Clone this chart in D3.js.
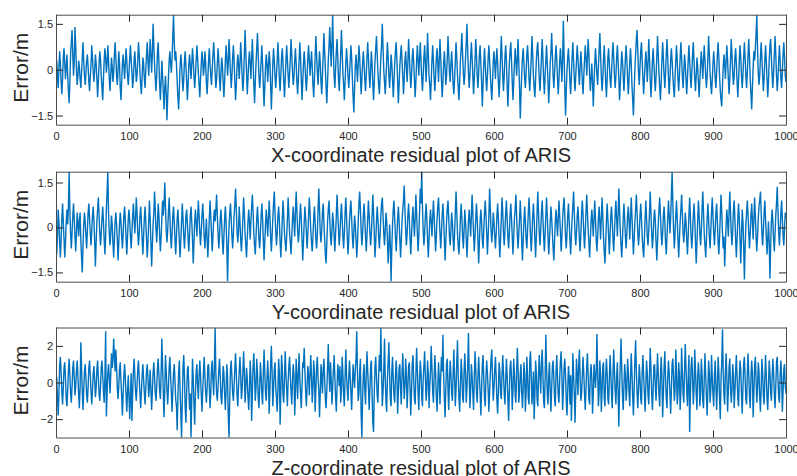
<!DOCTYPE html>
<html>
<head>
<meta charset="utf-8">
<script src="https://cdn.jsdelivr.net/npm/d3@7"></script>
<style>
  html, body { margin: 0; padding: 0; background: #fff; }
  svg { display: block; font-family: "Liberation Sans", Arial, Helvetica, sans-serif; }
  .tick text { fill: #262626; font-size: 11px; }
  .tick line { stroke: #262626; }
  .domain { stroke: #4d4d4d; }
</style>
</head>
<body>
<svg id="chart" width="797" height="476"></svg>
<script>
// residuals (m), samples 1..1000
const xResidual = [
0.3,-0.2,-0.6,0.1,0.6,0.2,-0.4,-0.8,-0.3,0.4,0.7,0.2,-0.3,0.1,0.5,-0.2,-0.7,-1.1,-0.4,0.5,
0.9,1.3,0.5,-0.2,0.3,1.4,0.8,0.0,-0.5,-0.2,0.3,0.1,-0.3,-0.6,-0.1,0.4,0.9,0.3,-0.2,-0.5,
-0.1,0.3,0.5,0.1,-0.4,-0.7,-0.2,0.2,0.8,0.4,-0.1,-0.4,0.0,0.5,0.2,-0.3,-0.9,-0.4,0.2,0.6,
0.3,-0.2,-0.6,-1.0,-0.3,0.3,0.7,0.4,-0.1,0.2,0.8,0.3,-0.3,-0.7,-0.2,0.4,0.1,-0.4,-0.1,0.5,
0.9,0.4,-0.2,-0.5,0.0,0.6,0.2,-0.6,-1.0,-0.4,0.2,0.5,0.1,-0.3,0.2,0.7,0.3,-0.2,-0.5,-0.1,
0.4,0.8,0.3,-0.1,-0.6,-0.3,0.3,0.6,0.1,-0.4,-0.2,0.3,0.9,0.5,-0.1,-0.5,-0.8,-0.2,0.4,0.2,
-0.3,-0.6,0.0,0.5,0.9,0.3,-0.2,0.4,1.0,0.5,-0.1,0.5,1.5,0.8,0.2,-0.3,-0.7,-0.2,0.6,0.9,
0.2,-0.5,-1.0,-0.4,0.3,-0.2,-0.7,-1.3,-0.6,-0.2,-0.8,-1.65,-0.9,-0.3,0.3,0.6,0.2,-0.1,0.4,1.1,
1.8,0.9,0.3,0.6,0.2,-0.4,-0.9,-1.3,-0.6,0.1,0.5,0.2,-0.3,-0.7,-0.3,0.3,0.6,0.1,-0.4,-1.0,
-0.5,0.2,0.5,0.1,-0.3,0.2,0.7,0.3,-0.2,-0.6,-0.2,0.3,0.8,0.4,-0.1,-0.5,-0.9,-0.3,0.2,0.6,
0.3,-0.2,0.1,0.6,0.2,-0.4,-0.8,-0.3,0.3,0.7,0.2,-0.2,-0.5,0.0,0.5,0.9,0.4,-0.1,-0.6,-0.3,
0.2,0.7,0.3,-0.3,-0.7,-0.1,0.4,0.1,-0.4,-0.9,-0.4,0.3,0.8,0.4,-0.2,0.2,1.0,0.5,-0.1,-0.6,
-0.2,0.4,0.8,0.3,-0.4,-1.0,-0.5,0.1,0.5,0.2,-0.3,0.2,0.9,0.4,-0.2,-0.7,-0.3,0.5,1.3,0.6,
-0.1,-0.8,-0.3,0.3,0.6,0.2,-0.3,0.4,1.0,0.3,-0.5,-1.1,-0.4,0.2,0.7,1.2,0.5,-0.2,-0.6,-0.2,
0.3,0.8,0.2,-0.5,-1.2,-0.6,0.1,0.5,0.2,-0.4,0.1,0.6,0.3,-0.5,-1.3,-0.6,0.2,0.7,0.3,-0.2,
-0.6,-0.2,0.3,0.9,0.4,-0.3,-0.7,-0.2,0.4,0.7,0.2,-0.4,-0.9,-0.3,0.3,0.8,0.3,-0.2,-0.6,-0.1,
0.4,1.0,0.5,-0.1,-0.5,-0.2,0.3,0.7,0.2,-0.4,-0.8,-0.3,0.3,0.9,0.4,-0.3,-1.0,-0.4,0.2,0.6,
0.2,-0.3,-0.7,-0.2,0.4,0.8,0.3,-0.2,0.2,0.6,0.1,-0.5,-0.9,-0.3,0.4,1.1,0.5,-0.1,-0.5,0.1,
0.6,0.2,-0.4,-0.8,-0.2,0.5,1.2,0.6,0.0,-0.6,-1.1,-0.4,0.3,0.8,1.4,0.7,0.1,0.9,1.8,0.6,
-0.2,-0.6,0.0,0.6,1.0,0.4,-0.3,-0.7,-0.1,0.5,1.3,0.6,-0.1,-0.5,-1.0,-0.4,0.2,0.7,0.3,-0.2,
-0.6,-0.2,0.3,0.8,0.4,-0.3,-0.9,-1.4,-0.6,0.1,0.5,0.1,-0.4,0.2,0.8,0.4,-0.2,-0.8,-0.3,0.2,
0.6,0.2,-0.3,-0.7,-0.2,0.4,0.9,0.4,-0.2,-0.6,0.0,0.6,0.2,-0.5,-1.0,-0.4,0.3,0.7,1.1,0.5,
-0.1,-0.5,-0.8,-0.2,0.4,0.8,1.5,0.7,0.0,-0.4,-0.8,-0.3,0.3,0.9,0.4,-0.2,-0.6,-0.1,0.5,0.2,
-0.3,-0.9,-0.4,0.2,0.6,0.9,0.3,-0.4,-1.1,-0.5,0.1,0.5,0.8,0.3,-0.2,-0.8,-0.3,0.3,0.6,0.1,
-0.4,0.2,1.0,0.5,-0.1,-0.6,-0.2,0.4,0.7,0.2,-0.3,-0.9,-0.4,0.3,0.8,0.3,-0.2,0.4,0.9,0.3,
-0.3,-0.7,-0.2,0.4,0.8,0.2,-0.4,0.3,1.2,0.5,-0.2,-0.5,-1.0,-0.4,0.3,0.8,0.3,-0.3,-0.7,-0.2,
0.4,0.7,0.2,-0.4,0.3,1.0,0.4,-0.3,-0.9,-0.4,0.2,0.6,0.1,-0.5,-0.2,0.4,1.1,0.5,-0.1,-0.4,
0.2,0.6,0.1,-0.5,-0.8,-0.3,0.3,0.9,0.4,-0.2,-0.6,-1.0,-0.4,0.3,0.7,1.2,0.5,-0.1,-0.5,-0.2,
0.4,0.9,1.5,0.6,-0.1,-0.6,-0.2,0.4,0.9,0.4,-0.2,-0.8,-0.3,0.3,1.0,0.5,-0.2,-0.6,-0.1,0.5,
0.8,0.2,-0.4,-1.2,-0.5,0.2,0.7,0.2,-0.3,-0.7,-0.2,0.4,0.8,0.3,-0.2,-0.6,-1.0,-0.4,0.3,0.6,
0.2,-0.3,0.3,0.7,0.2,-0.4,-0.9,-0.3,0.4,1.1,0.5,-0.2,-0.7,-0.2,0.4,0.8,0.3,-0.5,-1.2,-0.5,
0.2,0.6,0.9,0.3,-0.4,-1.0,-0.4,0.2,0.7,0.3,-0.2,0.4,1.0,0.2,-0.6,-1.6,-0.8,-0.1,0.4,0.7,
0.2,-0.3,-0.6,-0.1,0.5,0.8,0.3,-0.3,-0.7,-0.2,0.4,1.1,0.5,-0.2,-0.6,-0.9,-0.3,0.3,0.7,0.9,
0.3,-0.3,-0.7,-0.2,0.4,1.0,0.4,-0.3,-0.8,-0.2,0.3,0.8,0.2,-0.4,-1.1,-0.5,0.2,0.6,1.2,0.5,
-0.2,-0.6,-0.1,0.4,0.8,0.3,-0.3,-0.8,-0.3,0.3,0.7,0.2,-0.4,0.3,1.6,0.5,-0.6,-1.5,-0.7,0.0,
0.4,0.7,0.2,-0.4,-0.8,-0.2,0.4,0.9,0.3,-0.3,-0.7,-0.2,0.3,0.8,0.4,-0.1,-0.5,0.1,0.6,0.2,
-0.4,-0.8,-0.2,0.3,0.8,0.4,-0.2,0.4,1.0,0.5,-0.2,-0.7,-0.3,0.2,-0.4,-1.2,-0.5,0.2,0.7,0.3,
-0.2,-0.5,0.1,0.6,1.2,0.5,-0.2,-0.7,-0.3,0.3,0.8,0.2,-0.4,-0.9,-0.3,0.4,0.7,0.2,-0.3,-0.6,
-0.1,0.5,0.9,0.4,-0.2,-0.6,-0.2,0.4,0.8,0.3,-0.3,-1.0,-0.5,0.1,0.6,0.3,-0.2,-0.7,-0.2,0.4,
0.8,0.3,-0.3,-0.8,-0.3,0.3,0.7,0.2,-0.5,-1.0,-1.5,-0.7,0.0,0.5,1.0,1.3,0.6,-0.1,-0.5,0.1,
0.6,0.9,0.3,-0.3,-0.8,-0.3,0.2,0.6,0.2,-0.4,0.2,1.0,0.4,-0.3,-0.9,-0.4,0.3,0.7,0.2,-0.3,
-0.7,-0.2,0.4,1.1,0.5,-0.1,-0.6,-1.0,-0.4,0.3,0.9,0.4,-0.2,-0.6,-0.1,0.5,1.0,0.4,-0.3,-0.8,
-0.3,0.3,0.7,0.3,-0.2,-0.6,-0.9,-0.3,0.3,0.8,0.3,-0.3,-0.7,-0.2,0.4,0.9,0.4,-0.2,-0.6,-0.1,
0.5,0.2,-0.3,-0.8,-0.3,0.3,0.8,0.3,-0.2,-0.6,-0.1,0.5,0.9,0.3,-0.3,-0.7,-0.2,0.4,0.1,-0.4,
-0.9,-0.4,0.2,0.6,0.2,-0.3,0.3,0.8,0.3,-0.2,-0.6,-0.2,0.4,1.1,0.5,-0.1,-0.5,-0.8,-0.3,0.2,
0.6,0.2,-0.3,-0.6,-0.1,0.5,0.9,0.4,-0.2,-0.7,-1.0,-1.2,-0.5,0.1,0.5,0.2,-0.3,0.3,0.8,0.3,
-0.3,-0.8,-0.3,0.3,1.0,0.5,-0.1,-0.5,-0.2,0.4,0.7,0.2,-0.4,-0.9,-0.4,0.3,0.8,0.4,-0.2,-0.6,
-0.2,0.4,0.9,0.4,-0.2,-0.6,-0.1,0.5,1.0,0.4,-0.3,-0.8,-1.3,-0.6,0.1,0.6,0.3,0.7,1.2,1.8,
0.7,-0.1,-0.5,-0.2,0.4,0.9,0.4,-0.2,-0.7,-0.3,0.3,0.8,0.3,-0.3,-0.9,-0.4,0.3,0.8,1.0,0.4,
-0.2,-0.6,-0.1,0.5,1.1,0.5,-0.2,-0.7,-0.3,0.3,0.8,0.3,-0.3,-0.6,-0.1,0.5,0.9,0.4,-0.2,-0.4
];

const yResidual = [
-0.9,-0.3,0.6,0.2,-0.5,-1.0,-0.4,0.3,0.8,0.2,-0.4,-1.0,-0.5,0.2,0.6,0.1,0.7,1.86,0.6,-0.2,
-0.7,-0.2,0.4,0.8,0.3,-0.3,-0.8,-0.2,0.5,0.2,-0.3,0.2,0.5,-0.4,-1.0,-1.5,-0.6,0.1,0.5,0.2,
-0.3,-0.7,-0.1,0.5,0.8,0.3,-0.2,-0.6,-0.1,0.4,0.7,0.2,-0.5,-1.3,-0.5,0.2,0.6,1.0,0.4,-0.2,
-0.6,-0.2,0.3,0.7,0.2,-0.4,-0.9,-0.3,0.6,1.2,1.86,0.5,-0.2,-0.6,-0.2,0.4,0.1,-0.5,-1.0,-0.4,
0.2,0.5,0.1,-0.4,-1.1,-0.5,0.1,0.5,0.2,-0.3,-0.7,-0.2,0.4,0.7,0.2,-0.4,-0.9,-0.3,0.3,0.6,
0.2,-0.3,-0.7,-0.2,0.4,0.8,0.3,-0.2,0.3,1.0,0.5,-0.2,-0.6,-0.2,0.4,0.7,0.2,-0.4,-0.9,-0.3,
0.3,0.7,0.2,-0.4,-1.0,-0.5,0.2,0.9,0.3,-0.5,-1.3,-0.6,0.1,0.5,1.2,0.6,-0.1,-0.5,0.1,0.8,
0.4,-0.3,-0.8,-0.3,0.3,0.9,0.4,0.8,1.5,0.7,-0.1,-0.5,-0.1,0.5,1.0,0.4,-0.3,-0.7,-0.2,0.4,
0.7,0.2,-0.4,-0.9,-0.3,0.3,0.6,0.1,-0.5,-1.0,-0.4,0.2,0.8,0.3,-0.3,-0.7,-0.2,0.4,0.6,0.1,
-0.4,-0.8,-0.2,0.4,0.7,0.2,-0.4,-1.2,-0.5,0.2,0.6,0.2,-0.3,0.3,0.9,0.4,-0.2,-0.6,-0.1,0.4,
0.8,0.3,-0.3,-0.7,-0.2,0.3,-0.4,-1.0,-0.4,0.3,0.9,0.4,-0.2,-0.8,-0.3,0.3,0.6,0.2,0.6,1.1,
0.4,-0.2,-0.7,-0.3,0.3,0.6,0.1,-0.5,-0.9,-0.3,0.3,0.7,0.2,-0.6,-1.8,-0.7,0.0,0.5,0.8,0.3,
-0.3,-0.7,-0.2,0.4,0.8,1.3,0.6,-0.1,-0.5,-0.1,0.7,0.2,-0.4,-0.8,-0.3,0.3,1.0,0.5,-0.2,-0.6,
-1.0,-0.4,0.2,0.6,0.2,-0.4,0.2,0.7,1.1,0.5,-0.2,-0.6,-0.9,-0.3,0.3,0.7,0.2,-0.4,-0.7,-0.2,
0.4,0.8,0.3,-0.4,-1.1,-0.5,0.1,0.6,0.2,-0.3,0.3,0.9,0.4,-0.3,-0.8,-0.3,0.3,0.8,1.2,0.5,
-0.1,-0.6,-0.2,0.4,0.7,0.2,-0.5,-1.0,-0.4,0.3,0.9,0.4,-0.2,-0.5,-0.8,-0.3,0.3,1.0,0.4,-0.2,
-0.5,-0.9,-0.3,0.3,0.7,0.2,-0.3,0.5,1.2,0.6,-0.1,-0.5,-0.2,0.4,0.8,0.3,-0.4,-1.1,-0.5,0.2,
0.7,0.3,-0.2,-0.7,-0.2,0.4,1.0,0.5,-0.1,-0.5,-0.8,-0.3,0.3,0.7,0.2,-0.4,-0.7,-0.2,0.6,1.3,
0.6,-0.2,-0.5,-0.1,0.5,0.8,0.2,-0.4,-0.9,-1.2,-0.5,0.2,0.6,0.9,0.3,-0.3,-0.6,-0.1,0.5,0.2,
-0.3,-0.8,-0.2,0.4,1.1,0.5,-0.1,-0.6,-0.2,0.4,0.8,0.3,-0.3,-0.7,-0.2,0.5,1.0,0.4,-0.3,-0.9,
-0.4,0.2,0.6,0.9,0.3,-0.3,-0.7,-0.2,0.4,0.1,-0.4,-1.0,-0.5,0.2,0.8,1.2,0.6,-0.1,-0.6,-0.2,
0.4,0.8,0.3,-0.3,-0.8,-0.3,0.3,0.9,0.4,-0.2,-0.6,-0.2,0.4,1.1,0.5,-0.2,-1.0,-0.5,0.2,0.7,
0.3,-0.3,-0.7,-0.2,0.4,0.8,1.0,0.4,-0.2,-0.6,-0.1,0.5,0.2,-0.4,-1.2,-0.6,0.1,-0.6,-1.8,-0.7,
0.1,0.6,0.9,0.3,-0.3,-0.8,-0.3,0.3,0.7,0.2,-0.4,-1.0,-0.4,0.2,0.6,0.9,1.4,0.6,-0.1,-0.6,
-0.2,0.4,0.8,0.3,-0.4,-0.9,-0.3,0.3,0.7,0.2,-0.3,0.3,1.1,0.5,-0.2,-0.8,-0.3,0.5,1.3,0.8,
1.86,0.7,-0.1,-0.6,-0.2,0.4,0.8,0.3,-0.4,-1.0,-0.4,0.2,0.6,0.2,-0.3,0.3,0.9,0.4,-0.2,-0.8,
-0.3,0.3,0.7,1.0,0.4,-0.2,-0.7,-0.2,0.4,0.8,0.3,-0.4,-1.1,-0.5,0.2,0.6,0.9,0.3,-0.3,-0.6,
-0.1,0.5,0.2,-0.4,-0.8,-0.2,0.5,1.2,0.5,-0.2,-0.6,-0.9,-0.3,0.3,0.8,0.3,-0.3,-0.7,-0.1,0.6,
0.2,-0.4,-1.0,-0.4,0.2,0.6,0.2,-0.3,0.4,1.1,0.5,-0.2,-0.8,-0.3,0.3,0.8,0.3,-0.4,-1.2,-0.5,
0.2,0.6,0.2,-0.4,-0.7,-0.1,0.5,0.9,0.4,-0.2,-0.9,-0.3,0.4,1.3,0.6,-0.1,-0.5,-0.1,0.5,0.2,
-0.3,-0.7,-0.2,0.4,0.8,0.3,-0.4,-1.0,-0.4,0.3,1.0,0.5,-0.2,-0.6,-0.1,0.5,0.9,0.3,-0.3,-0.7,
-0.2,0.4,0.8,0.3,-0.3,-0.9,-0.3,0.3,0.6,1.1,0.4,-0.3,-0.7,-0.2,0.3,0.9,0.3,-0.5,-1.1,-0.4,
0.2,0.7,0.2,-0.4,-0.7,-0.1,0.5,1.0,0.4,-0.3,-0.8,-0.3,0.4,0.8,0.3,-0.4,-1.0,-0.3,0.5,1.2,
0.5,-0.2,-0.6,-0.1,0.5,0.9,0.3,-0.3,-0.8,-0.2,0.4,1.0,0.4,-0.3,-0.9,-0.4,0.2,0.7,0.3,-0.2,
-0.7,-1.1,-0.4,0.2,0.6,0.2,-0.3,0.3,0.9,0.4,-0.2,-0.8,-0.3,0.3,0.7,1.0,0.4,-0.3,-0.7,-0.2,
0.4,0.8,0.2,-0.4,-0.9,-0.3,0.3,0.7,1.2,0.5,-0.2,-0.6,-0.2,0.4,0.7,0.2,-0.4,-0.8,-0.2,0.5,
0.9,0.4,-0.2,-0.7,-0.2,0.5,1.1,0.5,-0.1,-0.5,-1.0,-0.4,0.2,0.6,0.2,-0.3,0.3,0.9,0.3,-0.4,
-0.8,-0.3,0.3,0.7,0.2,-0.4,0.3,1.0,0.4,-0.3,-0.8,-1.2,-0.5,0.2,0.8,0.3,-0.3,-0.9,-0.3,0.4,
0.7,0.2,-0.4,-0.8,-0.2,0.5,0.9,0.3,-0.3,0.4,1.3,0.6,-0.1,-0.6,-1.0,-0.4,0.3,0.8,0.3,-0.3,
-0.7,-0.2,0.4,0.7,0.2,-0.4,0.3,1.0,0.4,-0.3,-0.9,-0.4,0.2,0.6,1.1,0.5,-0.2,-0.6,-0.2,0.4,
0.8,0.3,-0.3,-0.7,-1.0,-0.4,0.3,0.9,0.3,-0.3,-0.6,-0.1,0.5,1.2,0.5,-0.2,-0.7,-0.3,0.3,0.6,
0.2,-0.5,-1.1,-0.5,0.1,0.6,1.0,0.4,-0.2,-0.6,-0.2,0.4,0.7,0.2,-0.5,-0.9,-0.3,0.3,0.9,0.4,
-0.2,0.3,1.1,1.86,0.8,-0.1,-0.7,-0.2,0.4,0.9,0.3,-0.4,-1.0,-0.4,0.2,0.6,1.1,0.5,-0.2,-0.5,
-0.1,0.5,0.2,-0.4,-0.9,-0.3,0.4,1.0,0.4,-0.3,-0.7,-0.2,0.4,0.8,0.3,-0.5,-1.2,-0.5,0.2,0.9,
0.4,-0.2,-0.6,-0.1,0.6,1.2,0.5,-0.2,-0.6,-1.0,-0.4,0.3,0.8,0.3,-0.3,-0.7,-0.1,0.5,1.0,0.4,
-0.2,-0.6,-0.1,0.5,0.8,0.2,-0.5,-0.9,-0.3,0.4,1.1,0.5,-0.2,-0.7,-0.3,-1.3,-0.6,0.1,0.6,0.2,
-0.3,0.5,1.2,0.5,-0.2,-0.6,-0.1,0.6,0.9,0.3,-0.4,-1.0,-0.4,0.3,0.8,0.3,-0.4,-1.2,-0.4,0.6,
0.2,-0.6,-1.74,-0.7,0.1,0.5,0.9,0.4,-0.2,-0.7,-0.2,0.4,0.8,0.2,-0.4,0.3,1.0,0.4,-0.3,-0.8,
-0.3,0.3,0.7,0.9,1.2,0.5,-0.2,-0.6,-0.1,0.5,0.9,0.3,-0.3,-0.9,-0.4,0.2,-0.5,-1.7,-0.6,0.2,
0.6,0.2,-0.4,-0.8,-0.2,0.4,0.8,1.36,0.6,-0.2,-0.6,-0.1,0.5,0.9,0.3,-0.3,-0.6,0.0,0.5,0.3
];

const zResidual = [
0.3,-0.8,-1.8,-0.6,0.9,1.4,0.5,-0.5,-1.2,-0.3,0.8,1.1,0.2,-0.9,-1.3,-0.4,0.6,1.3,0.4,-0.6,
-1.1,-0.2,0.8,1.2,0.3,-0.7,-0.2,0.6,1.2,0.4,-0.6,-1.4,-0.3,2.2,0.9,-0.5,-1.5,-0.4,0.6,1.0,
0.2,-0.7,-1.1,-0.2,0.8,1.2,0.4,-0.5,-1.2,-0.4,0.5,0.9,0.1,-0.8,-0.3,0.7,1.2,0.3,-0.6,-1.0,
-0.2,0.8,1.2,0.4,-0.5,-1.1,0.2,2.8,-1.85,-0.6,0.5,1.0,0.3,-0.6,0.4,1.6,0.8,1.2,2.4,1.5,
0.6,1.8,0.9,-0.3,-0.9,-0.2,0.7,1.1,0.1,-0.8,-1.8,-0.6,0.4,1.0,0.2,-0.7,-1.6,-0.5,0.4,-0.8,
-2.0,-0.7,0.5,-2.1,-0.6,0.6,1.3,0.4,-0.5,-1.0,-0.2,0.7,1.2,0.3,-0.6,-1.4,-0.5,0.4,1.0,0.2,
-0.6,-1.2,-0.3,0.6,1.0,0.2,-0.8,-0.2,0.7,-0.4,-1.5,-0.5,0.5,1.1,0.3,-0.6,-1.0,-0.2,0.8,1.3,
0.4,-0.5,-0.9,0.5,2.4,1.0,-0.6,-1.9,-0.4,1.5,0.6,-0.4,-1.2,-0.3,0.8,1.4,0.4,-0.6,-1.6,-0.5,
0.5,1.0,0.1,-0.9,-1.3,-2.6,-0.8,0.6,1.2,-0.5,-1.7,-3.0,-1.0,0.8,1.5,0.3,-1.4,-2.2,-0.5,0.7,
0.9,-0.4,-1.5,-0.6,-3.0,-0.8,1.3,0.2,-1.2,-2.3,-0.6,0.6,1.0,-0.2,-0.9,0.3,1.2,0.4,-0.7,-1.6,
-0.5,0.6,1.4,0.3,-0.5,-1.1,-0.3,0.9,1.0,-0.2,-1.4,-0.6,0.8,1.2,0.1,-0.7,0.9,3.0,0.5,-0.6,
-1.0,-0.2,0.7,1.3,0.4,-0.8,-1.2,-0.3,0.9,0.5,-0.6,-1.5,-0.4,1.0,0.3,-1.9,-3.0,-0.9,0.7,1.2,
0.3,-0.6,-1.0,-0.2,0.8,1.6,0.5,-0.7,-1.3,-0.3,0.6,1.4,0.4,-0.9,-0.4,0.6,1.7,0.6,-1.1,-0.3,
0.8,0.2,-0.8,-1.5,-0.4,1.2,0.3,-2.1,-0.6,0.9,1.6,0.4,-1.0,-0.3,1.3,0.5,-0.8,-1.4,-0.2,1.1,
0.4,-0.7,-1.2,0.5,1.8,0.6,-0.6,-1.0,0.2,1.2,0.3,-1.7,-0.5,1.0,2.0,0.6,-1.3,-0.4,0.7,1.1,
-0.2,-0.9,-1.6,-0.4,1.3,0.5,-2.3,-0.6,1.5,0.8,-0.7,-1.1,0.3,1.7,0.4,-0.4,-1.3,0.1,0.9,1.4,
0.3,-0.5,-1.2,0.2,1.0,0.4,-1.8,-0.6,1.3,0.4,-0.9,0.5,1.6,0.2,-0.6,-1.4,-0.2,1.1,0.8,1.9,
0.6,-0.5,-1.3,-0.2,0.9,0.4,-0.7,0.5,1.5,0.3,-1.1,-0.3,1.2,0.5,-1.6,-0.4,0.9,1.4,0.2,-0.4,
-1.9,-0.6,1.0,0.3,-0.6,0.7,1.3,0.2,-0.9,-1.4,-0.4,0.8,2.1,0.5,-0.5,1.1,0.2,-1.2,-0.3,0.7,
1.5,0.3,-0.8,-1.6,-0.3,1.0,0.5,-0.2,0.9,-1.1,-0.4,1.4,0.5,-0.7,-1.3,0.3,1.8,0.4,-0.4,-1.0,
0.2,1.2,0.4,-0.6,-1.5,-0.2,1.0,0.3,-0.3,0.7,1.3,2.8,0.5,-1.0,-0.6,0.6,1.3,-1.7,-3.0,-0.8,
0.4,1.0,-0.4,-1.2,0.5,1.7,0.6,-0.3,-1.5,-0.4,0.9,1.2,-0.6,-2.2,-2.7,-0.5,0.8,1.4,0.3,-0.7,
-1.1,0.4,1.5,0.6,3.0,0.7,-1.3,-0.5,0.6,2.4,0.3,-1.0,-1.6,0.2,1.1,2.2,0.4,-0.9,-1.3,0.6,
1.4,0.2,-0.7,-1.1,0.3,1.2,0.4,-1.7,-0.5,0.8,1.0,-0.4,-1.2,0.5,1.6,0.3,-0.9,-0.2,1.3,0.4,
-1.4,-0.3,0.9,1.1,-0.3,-1.8,-0.5,1.0,1.5,0.2,-0.9,-1.2,0.4,1.9,0.7,-0.5,-1.5,0.1,1.2,0.6,
-0.8,-1.3,0.2,0.9,1.7,0.3,-1.0,-0.4,1.2,0.5,-1.4,-0.2,0.6,2.0,0.8,-0.5,-1.1,0.3,1.5,0.5,
-0.8,-1.6,-0.3,1.1,0.2,-1.2,0.3,1.4,0.6,2.6,0.4,-0.9,-1.9,-0.3,1.0,1.3,-0.4,-1.5,0.2,1.2,
0.4,-0.6,-1.0,0.5,1.8,0.3,-1.3,-0.4,1.1,2.3,0.4,-0.9,-1.6,-0.2,1.3,0.6,-0.8,-1.1,0.6,1.6,
0.5,-1.1,-0.3,0.9,2.7,0.5,-1.4,-0.5,1.0,0.4,-0.6,-1.5,0.2,1.7,0.8,-0.6,-1.1,0.3,1.4,0.4,
-0.6,-1.8,-0.4,1.0,1.5,0.2,-0.9,-1.3,0.3,1.2,0.5,-0.4,-1.6,-0.5,0.5,1.3,1.8,0.2,-1.0,-0.3,
0.7,1.4,0.3,-1.0,-1.7,-0.5,1.1,0.6,-0.6,-0.9,0.4,1.5,0.5,-0.6,-1.2,0.1,1.3,0.4,-0.9,-2.1,
-0.6,0.8,1.2,0.2,-1.5,-0.4,1.3,0.5,-0.7,-1.1,0.6,1.9,0.7,-1.1,-0.5,0.5,1.0,-0.6,-1.4,-0.3,
1.1,0.4,-1.6,-0.5,1.4,0.3,-0.9,-1.2,1.2,1.7,0.4,-1.2,-0.4,0.6,-2.0,-0.7,1.2,0.5,-0.9,-1.3,
0.5,1.5,0.3,-0.6,1.0,1.8,0.5,-1.0,-1.4,0.2,2.6,0.8,-0.7,-1.2,0.4,1.1,-0.5,-1.6,-0.3,0.9,
1.2,0.2,-0.9,-1.3,0.6,1.5,0.3,-0.7,-1.1,0.2,1.2,1.7,0.4,-1.5,-0.5,0.8,1.3,0.4,-1.0,-1.8,
-0.4,0.9,0.3,-1.2,0.4,-2.1,-0.7,1.6,0.5,-0.6,-2.2,-0.5,1.3,0.4,-0.7,0.9,1.8,0.3,-1.0,-0.6,
0.4,1.4,0.5,-0.6,-1.5,-0.4,0.9,1.6,0.3,-0.9,-1.2,0.5,1.0,0.2,-1.7,-0.6,1.0,0.5,-0.3,0.5,
2.64,0.7,-1.3,-0.6,1.2,0.4,-1.6,-0.5,0.9,1.1,-0.8,-1.3,0.3,1.3,0.5,-0.9,-1.2,0.2,1.5,0.6,
-0.7,-1.4,0.4,1.8,0.6,-0.5,-1.2,0.3,1.1,-0.6,-2.4,-0.4,1.0,2.4,0.8,-0.7,-1.5,-0.2,1.0,0.4,
-1.0,-0.3,1.3,0.6,-0.6,-1.3,0.3,1.6,0.5,-0.8,-1.8,-0.4,1.2,2.3,0.7,-0.6,-1.4,-0.3,1.0,0.3,
-0.9,-1.2,0.6,1.5,0.4,-0.6,-1.6,-0.2,1.2,0.5,-0.7,-1.2,0.4,1.9,0.7,-0.6,-1.5,-0.4,0.9,1.0,
-0.2,-1.0,0.3,1.6,0.5,-0.7,-1.3,0.2,1.4,0.4,-1.9,-0.7,0.8,1.7,0.3,-0.9,-1.4,0.3,1.2,0.5,
-0.6,-1.7,-0.4,1.0,1.3,0.2,-1.0,-0.5,1.8,0.6,-1.2,-0.7,1.1,0.4,-1.5,-0.5,1.9,0.6,-0.6,-1.1,
0.6,2.1,0.8,-0.4,-1.3,0.2,1.5,-2.7,-0.8,0.9,1.4,0.3,-1.2,-0.4,1.8,0.7,-0.6,-1.5,0.3,1.1,
0.4,-1.3,-0.6,1.3,0.5,-1.0,-1.4,0.2,1.6,0.4,-0.8,-1.8,-0.3,1.2,0.5,-1.1,-0.4,1.5,0.3,-0.7,
-1.3,0.4,1.2,-0.2,-1.5,-0.3,1.4,0.6,-0.9,-2.0,0.2,1.1,2.9,0.6,-0.7,-1.2,0.6,1.6,0.2,-1.6,
-0.5,0.8,1.3,-0.2,-1.1,-0.4,1.0,0.4,-1.4,-0.5,0.6,1.5,0.3,-0.9,-1.3,0.2,1.2,0.7,-0.6,-1.7,
-0.3,1.0,1.4,0.2,-0.9,-1.2,0.5,1.6,0.4,-0.8,-1.4,0.3,1.2,0.5,-1.9,-0.6,0.9,1.4,0.2,-1.1,
-0.4,1.1,0.6,-0.8,-1.6,-0.3,1.3,0.5,-0.7,-1.2,0.2,1.5,0.4,-0.9,-1.5,-0.2,1.2,0.5,-0.5,-1.0,
0.3,1.3,0.5,-0.6,-1.4,-0.2,1.1,1.4,0.2,-0.8,-1.1,0.4,1.2,0.3,-1.6,-0.5,0.7,1.0,-0.2,-0.6
];

const sampleTicks = [0, 100, 200, 300, 400, 500, 600, 700, 800, 900, 1000];
const titles = ["X-coordinate residual plot of ARIS", "Y-coordinate residual plot of ARIS", "Z-coordinate residual plot of ARIS"];
const yDomains = [[-1.8, 1.8], [-1.81, 1.86], [-3, 3]];
const yTicks = [[-1.5, 0, 1.5], [-1.5, 0, 1.5], [-2, 0, 2]];

const svg = d3.select('#chart');
const left = 56, right = 786, plotH = 110;
const tops = [14.7, 171.7, 327.5];
const lineColor = '#0072bd';

const x = d3.scaleLinear().domain([0, 1000]).range([left, right]);
const plain = d3.format('');

[xResidual, yResidual, zResidual].forEach((vals, k) => {
    const top = tops[k], bottom = top + plotH;
    const y = d3.scaleLinear().domain(yDomains[k]).range([bottom, top]);
    const g = svg.append('g');

    g.append('clipPath').attr('id', 'clip' + k)
        .append('rect').attr('x', left).attr('y', top).attr('width', right - left).attr('height', plotH);

    const line = d3.line().x((d, i) => x(i + 1)).y(d => y(d));
    g.append('path').datum(vals)
        .attr('clip-path', `url(#clip${k})`)
        .attr('fill', 'none')
        .attr('stroke', lineColor)
        .attr('stroke-width', 1.4)
        .attr('d', line);

    // ticks point inward on all four sides, labels only left/bottom
    g.append('g').attr('transform', `translate(0,${bottom})`)
        .call(d3.axisBottom(x).tickValues(sampleTicks).tickSizeInner(-7).tickSizeOuter(0).tickPadding(8).tickFormat(plain));
    g.append('g').attr('transform', `translate(0,${top})`)
        .call(d3.axisTop(x).tickValues(sampleTicks).tickSizeInner(-7).tickSizeOuter(0).tickFormat(''));
    g.append('g').attr('transform', `translate(${left},0)`)
        .call(d3.axisLeft(y).tickValues(yTicks[k]).tickSizeInner(-7).tickSizeOuter(0).tickPadding(3).tickFormat(plain));
    g.append('g').attr('transform', `translate(${right},0)`)
        .call(d3.axisRight(y).tickValues(yTicks[k]).tickSizeInner(-7).tickSizeOuter(0).tickFormat(''));

    g.append('text')
        .attr('transform', `translate(28,${(top + bottom) / 2 - 2}) rotate(-90)`)
        .attr('text-anchor', 'middle')
        .attr('font-size', 21)
        .attr('fill', '#262626')
        .text('Error/m');

    g.append('text')
        .attr('x', (left + right) / 2)
        .attr('y', bottom + 37)
        .attr('text-anchor', 'middle')
        .attr('font-size', 20)
        .attr('fill', '#262626')
        .text(titles[k]);
});
</script>
</body>
</html>
